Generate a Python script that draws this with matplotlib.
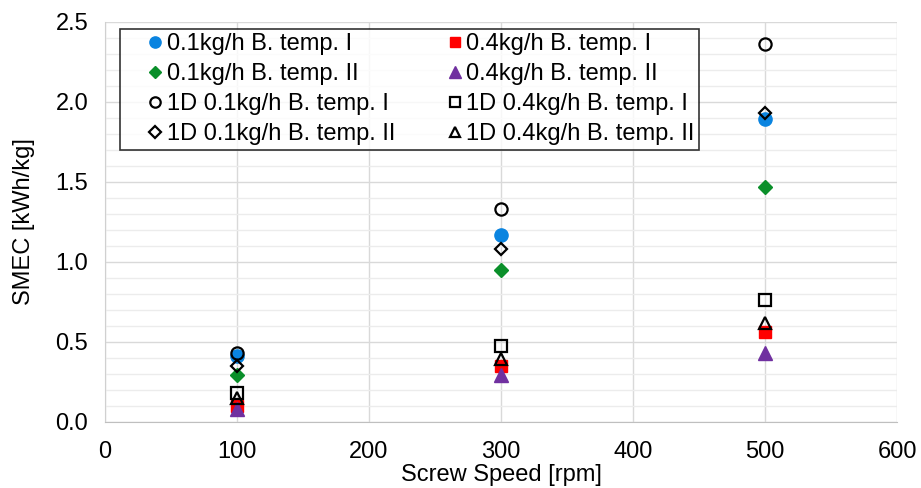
import matplotlib
matplotlib.use("Agg")
import matplotlib.pyplot as plt
from matplotlib.ticker import MultipleLocator, FormatStrFormatter

plt.rcParams['font.family'] = ['Liberation Sans', 'DejaVu Sans']

# Screw speed [rpm] and SMEC [kWh/kg]
speed = [100, 300, 500]
smec_01_I = [0.41, 1.17, 1.89]
smec_04_I = [0.10, 0.345, 0.56]
smec_01_II = [0.29, 0.95, 1.47]
smec_04_II = [0.08, 0.29, 0.43]
smec_1d_01_I = [0.43, 1.33, 2.36]
smec_1d_04_I = [0.18, 0.47, 0.76]
smec_1d_01_II = [0.35, 1.08, 1.93]
smec_1d_04_II = [0.15, 0.39, 0.62]

fig = plt.figure(figsize=(9.21, 4.88), dpi=100)
ax = fig.add_axes([0.114, 0.136, 0.860, 0.819])

open_kw = dict(mfc='none', mec='black', mew=1.6)
h1, = ax.plot(speed, smec_01_I, 'o', color='#0a84e0', ms=9.5, label='0.1kg/h B. temp. I')
h2, = ax.plot(speed, smec_04_I, 's', color='#ff0000', ms=8.8, label='0.4kg/h B. temp. I')
h3, = ax.plot(speed, smec_01_II, 'D', color='#0a8f2a', ms=7.0, label='0.1kg/h B. temp. II')
h4, = ax.plot(speed, smec_04_II, '^', color='#7030a0', ms=9.5, label='0.4kg/h B. temp. II')
h5, = ax.plot(speed, smec_1d_01_I, 'o', ms=8.8, label='1D 0.1kg/h B. temp. I', **open_kw)
h6, = ax.plot(speed, smec_1d_04_I, 's', ms=8.5, label='1D 0.4kg/h B. temp. I', **open_kw)
h7, = ax.plot(speed, smec_1d_01_II, 'D', ms=6.6, label='1D 0.1kg/h B. temp. II', **open_kw)
h8, = ax.plot(speed, smec_1d_04_II, '^', ms=9.0, label='1D 0.4kg/h B. temp. II', **open_kw)

ax.set_xlim(0, 600)
ax.set_ylim(0, 2.5)
ax.xaxis.set_major_locator(MultipleLocator(100))
ax.yaxis.set_major_locator(MultipleLocator(0.5))
ax.yaxis.set_minor_locator(MultipleLocator(0.1))
ax.yaxis.set_major_formatter(FormatStrFormatter('%.1f'))
ax.set_axisbelow(True)
ax.grid(which='major', color='#d9d9d9', lw=1)
ax.grid(which='minor', axis='y', color='#ececec', lw=1)
ax.tick_params(which='both', length=0, labelsize=17, colors='black')
ax.tick_params(axis='x', pad=14)
ax.tick_params(axis='y', pad=12)
for s in ['top', 'right']:
    ax.spines[s].set_visible(False)
ax.spines['left'].set_color('#d0d0d0')
ax.spines['bottom'].set_color('#bfbfbf')

ax.set_xlabel('Screw Speed [rpm]', fontsize=17, labelpad=1)
ax.set_ylabel('SMEC [kWh/kg]', fontsize=17)
ax.yaxis.set_label_coords(-0.088, 0.5)

leg = ax.legend(handles=[h1, h3, h5, h7, h2, h4, h6, h8], ncol=2, loc='upper left',
                bbox_to_anchor=(0.019, 0.983), fontsize=17, frameon=True, fancybox=False,
                markerscale=0.85, handlelength=2.6, handletextpad=-0.83,
                columnspacing=1.25, labelspacing=0.33, borderpad=0.2, borderaxespad=0)
leg.get_frame().set_edgecolor('black')
leg.get_frame().set_linewidth(1.2)

fig.savefig('out.png', dpi=100)
